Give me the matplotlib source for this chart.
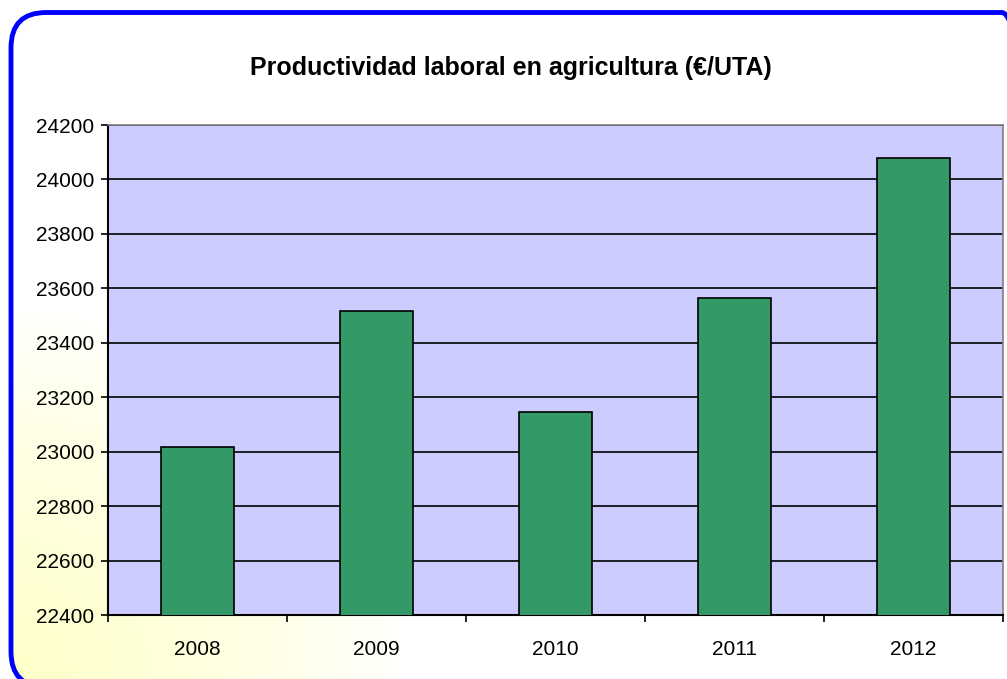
import numpy as np
import matplotlib
matplotlib.use("Agg")
import matplotlib.pyplot as plt
from matplotlib.patches import FancyBboxPatch

years = ["2008", "2009", "2010", "2011", "2012"]
values = [23016, 23517, 23146, 23564, 24078]
yticks = [22400, 22600, 22800, 23000, 23200, 23400, 23600, 23800, 24000, 24200]
title = "Productividad laboral en agricultura (€/UTA)"

plt.rcParams['font.family'] = ['Liberation Sans', 'DejaVu Sans']

W, H = 1007, 679
fig = plt.figure(figsize=(W/100, H/100), dpi=100)

# background gradient
bg = fig.add_axes([0, 0, 1, 1], zorder=0)
ny, nx = 200, 300
yy, xx = np.mgrid[0:1:ny*1j, 0:1:nx*1j]
t = np.clip(1 - np.sqrt((xx / 0.40) ** 2 + ((yy) / 0.55) ** 2), 0, 1) ** 0.8
white = np.array([1, 1, 1])
yellow = np.array([1, 1, 0.78])
img = white[None, None, :] * (1 - t[..., None]) + yellow[None, None, :] * t[..., None]
bg.imshow(img, extent=[0, 1, 0, 1], origin='lower', aspect='auto')
bg.set_xlim(0, 1)
bg.set_ylim(0, 1)
bg.axis('off')
x0, y0 = 11/W, -8/H
box = FancyBboxPatch((x0, y0), (W + 30)/W - x0, (H - 12.5 + 8)/H,
                     boxstyle="round,pad=0,rounding_size=0.035",
                     transform=bg.transAxes, fill=False, edgecolor='#0000FF',
                     linewidth=3.5, mutation_aspect=W/H)
bg.add_patch(box)
bg.images[0].set_clip_path(box)

# plot axes
left, right, top, bottom = 108, 1003, 125, 615
ax = fig.add_axes([left/W, 1 - bottom/H, (right-left)/W, (bottom-top)/H], zorder=1)
ax.set_facecolor('#CCCCFF')
x = np.arange(len(years))
ax.bar(x, values, width=0.41, color='#339966', edgecolor='black', linewidth=1.2, zorder=3)
ax.set_xlim(-0.5, len(years) - 0.5)
ax.set_ylim(22400, 24200)
ax.set_yticks(yticks)
ax.set_yticklabels([str(v) for v in yticks], fontsize=15)
ax.yaxis.grid(True, color='black', linewidth=1.2, zorder=1)
ax.set_axisbelow(True)
ax.set_xticks(x)
ax.set_xticklabels(years, fontsize=15)
ax.set_xticks(np.arange(len(years) + 1) - 0.5, minor=True)
ax.tick_params(axis='x', which='major', length=0, pad=18)
ax.tick_params(axis='x', which='minor', length=5, width=1.2, direction='out')
ax.tick_params(axis='y', length=5, width=1.2, direction='out', pad=5)
for s in ['top', 'right']:
    ax.spines[s].set_color('#808080')
    ax.spines[s].set_linewidth(1.2)
for s in ['left', 'bottom']:
    ax.spines[s].set_color('black')
    ax.spines[s].set_linewidth(1.5)

fig.text(511/W, 1 - 68/H, title, ha='center', va='center', fontsize=18, fontweight='bold')

fig.savefig("out.png", dpi=100)
